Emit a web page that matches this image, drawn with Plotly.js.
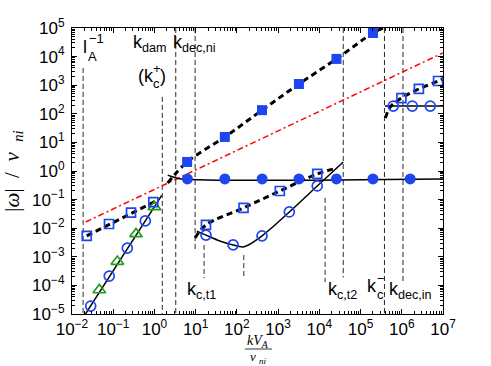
<!DOCTYPE html>
<html>
<head>
<meta charset="utf-8">
<script src="https://cdn.plot.ly/plotly-3.0.1.min.js"></script>
<style>
  html, body { margin: 0; padding: 0; background: #fff; }
  #chart { width: 491px; height: 366px; }
</style>
</head>
<body>
<div id="chart"></div>
<script>
// axis decades
const xExponents = [-2, -1, 0, 1, 2, 3, 4, 5, 6, 7];
const yExponents = [-5, -4, -3, -2, -1, 0, 1, 2, 3, 4, 5];

// characteristic wavenumbers (vertical dashed lines) and their extent
const vlineK = [0.0186, 1.55, 3.29, 9.7, 16, 147, 1.38e4, 3.8e4, 3.8e5, 1.07e6];
const vlineTop = [4e3, 390, 1e5, 1e5, 2.6e-3, 1.15e-3, 0.115, 1e5, 1e5, 1e5];
const vlineBottom = [1e-5, 1e-5, 1e-5, 1.7e-3, 1.8e-4, 1.8e-4, 1.3e-4, 1.9e-4, 1e-5, 1.2e-4];

// red dash-dot reference line
const refK = [0.0215, 1e7];
const refOmega = [0.0165, 1.35e4];

// low-k branch: solid line, open circles, green triangles
const lowLineK = [0.0212, 1.5];
const lowLineOmega = [1e-5, 0.14];
const lowCircleK = [0.0284, 0.080, 0.22, 0.60];
const lowCircleOmega = [1.9e-5, 2.1e-4, 2.0e-3, 1.8e-2];
const triK = [0.046, 0.126, 0.357, 1.0];
const triOmega = [6.9e-5, 6.8e-4, 6.3e-3, 0.056];

// low-k branch: dashed with open squares
const lowSqLineK = [0.0228, 1.1];
const lowSqLineOmega = [5.4e-3, 0.09];
const lowSqK = [0.0228, 0.079, 0.27, 0.94];
const lowSqOmega = [5.4e-3, 0.014, 0.035, 0.081];

// fast branch: dashed with filled squares
const fastLineK = [2.1, 6.2, 51, 407, 3.2e3, 2.6e4, 2.0e5, 3.5e5];
const fastLineOmega = [0.38, 2.07, 15.5, 134, 1.1e3, 8.3e3, 6.7e4, 1e5];
const fastSqK = [6.2, 51, 407, 3.2e3, 2.6e4, 2.0e5];
const fastSqOmega = [2.07, 15.5, 134, 1.1e3, 8.3e3, 6.7e4];

// damping plateau: solid with filled circles
const plateauLineK = [2.1, 3.0, 4.5, 1e7];
const plateauLineOmega = [0.72, 0.6, 0.53, 0.53];
const plateauDotK = [6.3, 51, 410, 3.2e3, 2.6e4, 2.0e5, 1.6e6];
const plateauDotOmega = [0.53, 0.53, 0.53, 0.53, 0.53, 0.53, 0.53];

// middle branch: dashed with open squares
const midSqLineK = [9.7, 17.8, 145, 1.1e3, 8.9e3, 2.7e4];
const midSqLineOmega = [4.6e-3, 0.013, 0.051, 0.20, 0.79, 1.27];
const midSqK = [17.8, 145, 1.1e3, 8.9e3];
const midSqOmega = [0.013, 0.051, 0.20, 0.79];

// middle branch: solid curve with open circles
const midLineK = [10.7, 17.8, 40, 81, 150, 407, 1870, 8900, 38000];
const midLineOmega = [7.9e-3, 5.7e-3, 3.5e-3, 2.6e-3, 2.25e-3, 5.4e-3, 0.037, 0.30, 2.07];
const midCircleK = [17.8, 81, 407, 1870, 8900];
const midCircleOmega = [5.7e-3, 2.6e-3, 5.4e-3, 0.037, 0.30];

// high-k branch
const highSqLineK = [4.0e5, 5.3e5, 9.8e5, 2.6e6, 7.6e6, 1e7];
const highSqLineOmega = [71, 174, 355, 740, 1.4e3, 1.66e3];
const highSqK = [9.8e5, 2.6e6, 7.6e6];
const highSqOmega = [355, 740, 1.4e3];
const highLineK = [3.9e5, 1e7];
const highLineOmega = [187, 187];
const highCircleK = [6.2e5, 1.8e6, 4.9e6];
const highCircleOmega = [187, 187, 187];

const BLUE = '#1e46f0';
const GREEN = '#1f9f1f';
const thickDash = { color: '#000', width: 3, dash: '6px,4px' };
const thinSolid = { color: '#000', width: 1.5 };

const line = (x, y, l) => ({ x, y, mode: 'lines', line: l, hoverinfo: 'skip' });
const curve = (x, y, l) => line(x, y, Object.assign({ shape: 'spline' }, l));
// open symbols take their stroke colour from marker.color
const marks = (x, y, symbol, color, size) => ({
  x, y, mode: 'markers', hoverinfo: 'skip',
  marker: symbol.endsWith('open')
    ? { symbol, size, color, line: { color, width: 1.7 } }
    : { symbol, size, color, line: { width: 0 } },
});

const vx = vlineK.flatMap(k => [k, k, null]);
const vy = vlineK.flatMap((k, i) => [vlineTop[i], vlineBottom[i], null]);

const traces = [
  line(vx, vy, { color: '#2a2a2a', width: 1, dash: '5px,3px' }),
  line(refK, refOmega, { color: '#ff0000', width: 1.5, dash: '6px,3px,2px,3px' }),
  line(lowLineK, lowLineOmega, thinSolid),
  line(lowSqLineK, lowSqLineOmega, thickDash),
  curve(fastLineK, fastLineOmega, thickDash),
  curve(plateauLineK, plateauLineOmega, thinSolid),
  curve(midSqLineK, midSqLineOmega, thickDash),
  curve(midLineK, midLineOmega, thinSolid),
  curve(highSqLineK, highSqLineOmega, thickDash),
  line(highLineK, highLineOmega, thinSolid),
  marks(lowCircleK, lowCircleOmega, 'circle-open', BLUE, 10),
  marks(triK, triOmega, 'triangle-up-open', GREEN, 11),
  marks(lowSqK, lowSqOmega, 'square-open', BLUE, 9),
  marks(fastSqK, fastSqOmega, 'square', BLUE, 10),
  marks(plateauDotK, plateauDotOmega, 'circle', BLUE, 11),
  marks(midSqK, midSqOmega, 'square-open', BLUE, 9),
  marks(midCircleK, midCircleOmega, 'circle-open', BLUE, 10),
  marks(highSqK, highSqOmega, 'square-open', BLUE, 9),
  marks(highCircleK, highCircleOmega, 'circle-open', BLUE, 10),
];

// plot area in pixels: x 72..443, y 28..314
const PX = (px) => (px - 72) / 371;
const PY = (py) => 1 - (py - 28) / 286;
const SANS = 'Liberation Sans, Arial, sans-serif';
const SERIF = 'Liberation Serif, Times New Roman, serif';
const lbl = (text, px, py, size, extra) => Object.assign({
  text, xref: 'paper', yref: 'paper', x: PX(px), y: PY(py),
  xanchor: 'left', yanchor: 'middle', showarrow: false,
  font: { family: SANS, size: size || 18, color: '#000' },
}, extra || {});

const serif = { family: SERIF, size: 14, color: '#000' };
const serifSmall = { family: SERIF, size: 13, color: '#000' };

const annotations = [
  lbl('l', 81, 47),
  lbl('−1', 87, 38, 13),
  lbl('A', 86, 57, 13),
  lbl('k<sub>dam</sub>', 131, 43),
  lbl('(k', 136, 76),
  lbl('+', 151, 68, 13),
  lbl('c', 151, 83, 13),
  lbl(')', 158, 76),
  lbl('k<sub>dec,ni</sub>', 171, 43),
  lbl('k<sub>c,t1</sub>', 185, 290),
  lbl('k<sub>c,t2</sub>', 326, 290),
  lbl('k', 365, 286),
  lbl('−', 375, 278, 13),
  lbl('c', 375, 294, 13),
  lbl('k<sub>dec,in</sub>', 387, 290),
  lbl('<i>kV</i><sub><i>A</i></sub>', 258, 341, 14, { xanchor: 'center', font: serif }),
  lbl('<i>ν</i> <sub><i>ni</i></sub>', 258, 357, 13, { xanchor: 'center', font: serifSmall }),
];

const powerLabel = (e) => '10<sup>' + (e < 0 ? '−' + (-e) : e) + '</sup>';

const axisBase = {
  type: 'log',
  showline: true,
  linecolor: '#000',
  linewidth: 1,
  mirror: 'allticks',
  ticks: 'inside',
  ticklen: 5,
  tickcolor: '#000',
  tickangle: 0,
  showgrid: false,
  zeroline: false,
  tickfont: { family: SANS, size: 17, color: '#000' },
  minor: { ticks: 'inside', ticklen: 3, tickcolor: '#000', dtick: 'D1', showgrid: false },
};

const layout = {
  width: 491,
  height: 366,
  margin: { l: 72, r: 48, t: 28, b: 52 },
  paper_bgcolor: '#fff',
  plot_bgcolor: '#fff',
  showlegend: false,
  xaxis: Object.assign({}, axisBase, {
    range: [-2, 7],
    tickvals: xExponents.map(e => Math.pow(10, e)),
    ticktext: xExponents.map(powerLabel),
  }),
  yaxis: Object.assign({}, axisBase, {
    range: [-5, 5],
    tickvals: yExponents.map(e => Math.pow(10, e)),
    ticktext: yExponents.map(powerLabel),
    ticklabelstandoff: 3,
    title: {
      text: '|<i>ω</i>|  /  <i>ν</i>  <sub><i>ni</i></sub>',
      font: { family: SERIF, size: 21, color: '#000' },
      standoff: 10,
    },
  }),
  annotations,
  shapes: [{
    type: 'line', xref: 'paper', yref: 'paper',
    x0: PX(245), x1: PX(272), y0: PY(349), y1: PY(349),
    line: { color: '#000', width: 0.8 },
  }],
};

Plotly.newPlot('chart', traces, layout, { displayModeBar: false, staticPlot: true });
</script>
</body>
</html>
